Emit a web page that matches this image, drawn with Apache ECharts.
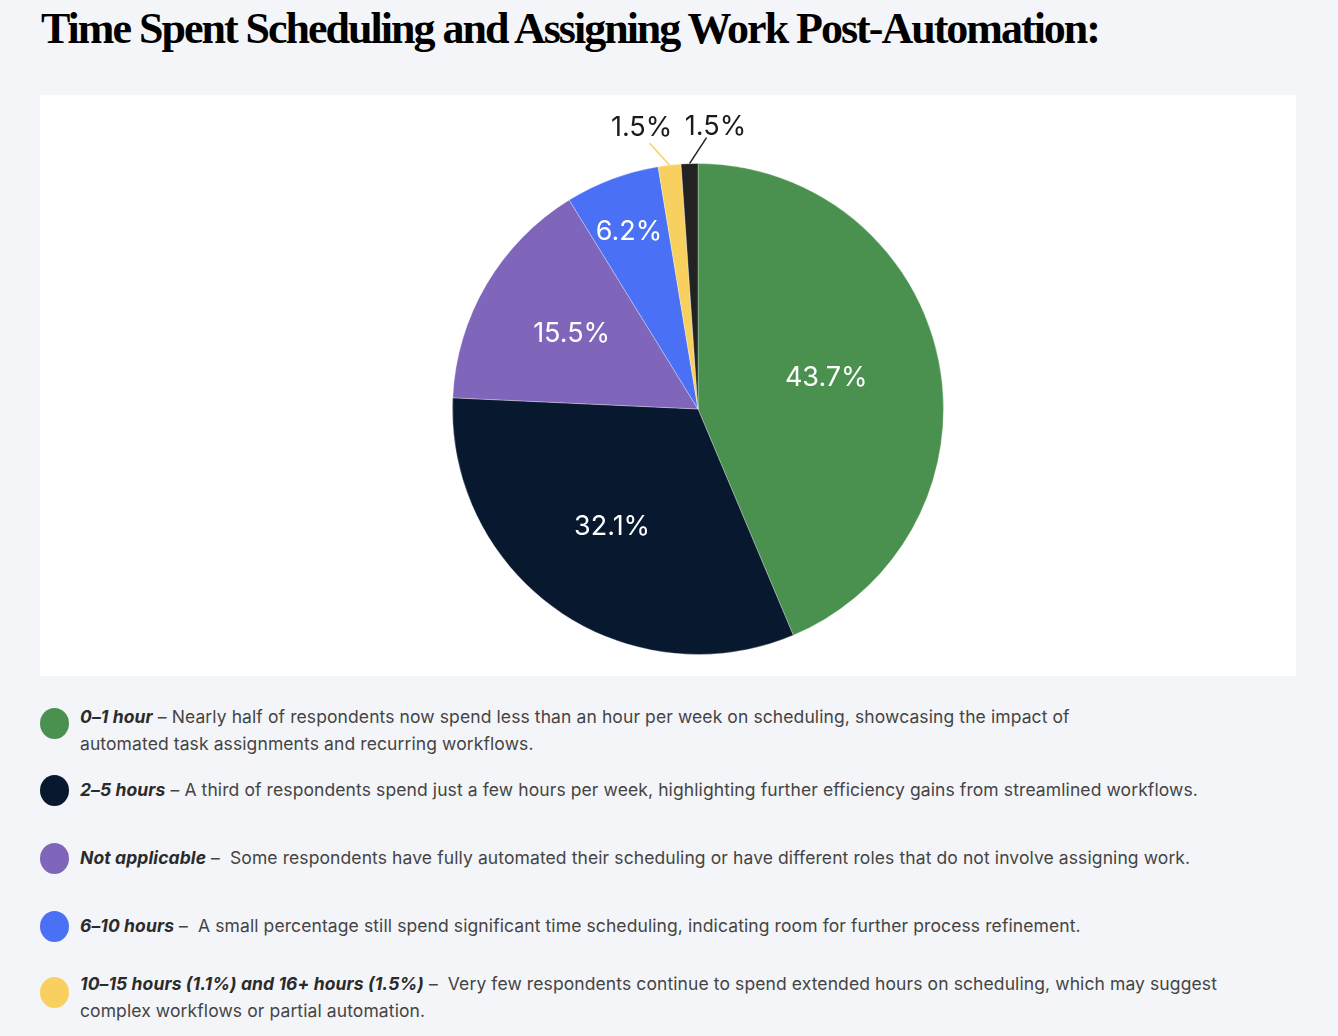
<!DOCTYPE html>
<html>
<head>
<meta charset="utf-8">
<script src="https://cdn.jsdelivr.net/npm/echarts@6/dist/echarts.min.js"></script>
<style>
  html, body { margin: 0; padding: 0; }
  body { width: 1338px; height: 1036px; background: #f4f5f9; position: relative; overflow: hidden; font-family: Inter, "Open Sans", sans-serif; }
  #title { position: absolute; left: 41px; top: 3px; margin: 0; font-family: "Liberation Serif", "DejaVu Serif", serif; font-weight: 700; font-size: 44px; letter-spacing: -2px; color: #000; white-space: nowrap; }
  #panel { position: absolute; left: 40px; top: 95px; width: 1256px; height: 581px; background: #fff; }
  #main { width: 1256px; height: 581px; }
  .dot { position: absolute; width: 29px; height: 31px; border-radius: 50%; }
  .txt { position: absolute; width: 1200px; font-size: 17.5px; letter-spacing: 0.1px; line-height: 27px; color: #444; white-space: nowrap; }
  .txt b { font-style: italic; font-weight: 700; color: #2b2b2b; }
</style>
</head>
<body>
<h1 id="title">Time Spent Scheduling and Assigning Work Post-Automation:</h1>
<div id="panel"><div id="main"></div></div>
<div id="legend"></div>
<script>
// slices, clockwise from 12 o'clock
var categories = ['0–1 hour', '2–5 hours', 'Not applicable', '6–10 hours', '10–15 hours', '16+ hours'];
var shares = [43.7, 32.1, 15.5, 6.2, 1.5, 1.1];
var sliceLabels = ['43.7%', '32.1%', '15.5%', '6.2%', '1.5%', '1.5%'];
var colors = ['#4a9150', '#07182f', '#8066bb', '#4a70f5', '#f8d060', '#222222'];

// legend / notes below the chart
var noteTitles = ['0–1 hour', '2–5 hours', 'Not applicable', '6–10 hours', '10–15 hours (1.1%) and 16+ hours (1.5%)'];
var noteTexts = [
  ' – Nearly half of respondents now spend less than an hour per week on scheduling, showcasing the impact of<br>automated task assignments and recurring workflows.',
  ' – A third of respondents spend just a few hours per week, highlighting further efficiency gains from streamlined workflows.',
  ' –&nbsp; Some respondents have fully automated their scheduling or have different roles that do not involve assigning work.',
  ' –&nbsp; A small percentage still spend significant time scheduling, indicating room for further process refinement.',
  ' –&nbsp; Very few respondents continue to spend extended hours on scheduling, which may suggest<br>complex workflows or partial automation.'
];
var noteColors = ['#4a9150', '#07182f', '#8066bb', '#4a70f5', '#f8d060'];

// layout tweaks (pixels)
var noteTops = [703, 776, 844, 912, 970];
var dotTops = [708, 775, 843, 911, 977];
var insideOffsets = [[5, -6], [-14, 15], [-18, -11], [-25, -59]];

var legend = document.getElementById('legend');
for (var i = 0; i < noteTitles.length; i++) {
  var dot = document.createElement('div');
  dot.className = 'dot';
  dot.style.left = '40px';
  dot.style.top = dotTops[i] + 'px';
  dot.style.background = noteColors[i];
  legend.appendChild(dot);
  var t = document.createElement('div');
  t.className = 'txt';
  t.style.left = '80px';
  t.style.top = noteTops[i] + 'px';
  t.innerHTML = '<b>' + noteTitles[i] + '</b>' + noteTexts[i];
  legend.appendChild(t);
}

var myChart = echarts.init(document.getElementById('main'));
var data = [];
for (var k = 0; k < shares.length; k++) {
  var item = { name: categories[k], value: shares[k], itemStyle: { color: colors[k] } };
  if (k < 4) {
    item.label = { position: 'inside', offset: insideOffsets[k], color: '#fff' };
  } else {
    item.label = { position: 'outside', color: '#1a1a1a' };
    item.labelLine = { show: true, length: 15, length2: 0, lineStyle: { color: colors[k], width: 1.5 } };
  }
  data.push(item);
}

var option = {
  animation: false,
  series: [
    {
      type: 'pie',
      center: [658, 314],
      radius: 245.5,
      startAngle: 90,
      clockwise: true,
      avoidLabelOverlap: false,
      itemStyle: { borderColor: 'rgba(255,255,255,0.6)', borderWidth: 0.5 },
      label: {
        fontFamily: 'Inter',
        fontSize: 27,
        formatter: function (p) { return sliceLabels[p.dataIndex]; }
      },
      labelLayout: function (p) {
        if (p.dataIndex < 4 || !p.labelLinePoints) return {};
        var a = p.labelLinePoints[0];
        var lab = p.dataIndex === 4 ? [-28, -37] : [26, -37];
        var end = p.dataIndex === 4 ? [-20, -22] : [17, -26];
        return {
          x: a[0] + lab[0],
          y: a[1] + lab[1],
          align: 'center',
          verticalAlign: 'middle',
          labelLinePoints: [[a[0], a[1]], [a[0] + end[0], a[1] + end[1]], [a[0] + end[0], a[1] + end[1]]]
        };
      },
      data: data
    }
  ]
};
myChart.setOption(option);
</script>
</body>
</html>
